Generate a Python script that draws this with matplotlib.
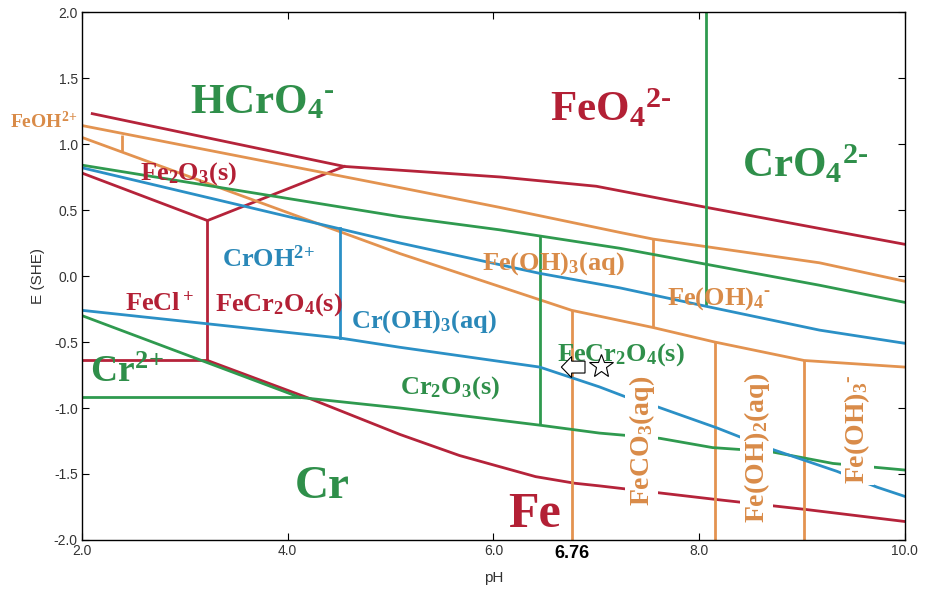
#Pourbaix diagram Fe-Cr (E vs pH), redrawn
import numpy as np
import matplotlib
matplotlib.use("Agg")
import matplotlib.pyplot as plt

plt.rcParams['mathtext.fontset'] = 'custom'
plt.rcParams['mathtext.default'] = 'regular'
plt.rcParams['axes.unicode_minus'] = False

#colours
red = '#b5233a'
orange = '#e39350'
green = '#2f9a4f'
blue = '#2b90c6'
red_txt = '#b32035'
orange_txt = '#d98b48'
green_txt = '#2f8f4a'
blue_txt = '#2a88b8'

#Fe boundaries (red)
red_top_ph = [2.1, 4.55, 6.07, 7.0, 8.07, 9.17, 10.0]
red_top_e = [1.23, 0.83, 0.75, 0.68, 0.52, 0.36, 0.24]
red_v_ph = [2.0, 3.22, 4.55]
red_v_e = [0.78, 0.42, 0.83]
red_mid_ph = [3.22, 3.22]
red_mid_e = [0.42, -0.64]
red_hor_ph = [2.0, 3.22]
red_hor_e = [-0.64, -0.64]
red_bot_ph = [3.22, 4.22, 5.09, 5.67, 6.41, 6.79, 7.03, 8.13, 9.05, 10.0]
red_bot_e = [-0.64, -0.93, -1.2, -1.36, -1.52, -1.57, -1.59, -1.69, -1.77, -1.86]

#Fe boundaries (orange)
orange_up_ph = [2.0, 5.09, 6.06, 7.23, 7.55, 9.17, 10.0]
orange_up_e = [1.14, 0.67, 0.52, 0.33, 0.28, 0.10, -0.04]
orange_lo_ph = [2.0, 5.09, 6.45, 6.76, 7.55, 8.15, 9.02, 10.0]
orange_lo_e = [1.05, 0.17, -0.18, -0.26, -0.39, -0.50, -0.64, -0.69]
orange_vx = [2.39, 7.55, 6.76, 8.15, 9.02]
orange_vtop = [1.07, 0.28, -0.26, -0.50, -0.64]
orange_vbot = [0.95, -0.39, -2.0, -2.0, -2.0]

#Cr boundaries (green)
green_up_ph = [2.0, 5.09, 6.06, 7.23, 9.17, 10.0]
green_up_e = [0.84, 0.45, 0.35, 0.21, -0.07, -0.20]
green_vx = [6.45, 8.07]
green_vtop = [0.30, 2.0]
green_vbot = [-1.13, -0.23]
green_cr2_ph = [2.0, 4.12]
green_cr2_e = [-0.30, -0.92]
green_hor_ph = [2.0, 4.12]
green_hor_e = [-0.92, -0.92]
green_lo_ph = [4.12, 5.09, 6.45, 7.03, 7.62, 8.13, 8.69, 9.30, 10.0]
green_lo_e = [-0.92, -1.0, -1.13, -1.19, -1.23, -1.30, -1.33, -1.42, -1.47]

#Cr boundaries (blue)
blue_up_ph = [2.0, 5.09, 6.45, 7.23, 8.07, 9.17, 10.0]
blue_up_e = [0.82, 0.25, 0.02, -0.09, -0.23, -0.41, -0.51]
blue_v_ph = [4.51, 4.51]
blue_v_e = [0.36, -0.47]
blue_lo_ph = [2.0, 4.51, 5.09, 6.45, 7.03, 7.30, 7.59, 8.17, 8.66, 9.34, 9.73, 10.0]
blue_lo_e = [-0.26, -0.47, -0.54, -0.69, -0.84, -0.92, -0.99, -1.15, -1.30, -1.48, -1.60, -1.67]

#marked point
star_ph = 7.05
star_e = -0.68

xticks = [2.0, 4.0, 6.0, 8.0, 10.0]
yticks = [-2.0, -1.5, -1.0, -0.5, 0.0, 0.5, 1.0, 1.5, 2.0]

fig = plt.figure(figsize=(9.25, 5.89), dpi=100)
ax = fig.add_axes([0.0886, 0.0832, 0.8897, 0.8964])
lw = 2.0

ax.plot(red_top_ph, red_top_e, color=red, lw=lw)
ax.plot(red_v_ph, red_v_e, color=red, lw=lw)
ax.plot(red_mid_ph, red_mid_e, color=red, lw=lw)
ax.plot(red_hor_ph, red_hor_e, color=red, lw=lw)
ax.plot(red_bot_ph, red_bot_e, color=red, lw=lw)

ax.plot(orange_up_ph, orange_up_e, color=orange, lw=lw)
ax.plot(orange_lo_ph, orange_lo_e, color=orange, lw=lw)
ax.vlines(orange_vx, orange_vbot, orange_vtop, color=orange, lw=lw)

ax.plot(green_up_ph, green_up_e, color=green, lw=lw)
ax.vlines(green_vx, green_vbot, green_vtop, color=green, lw=lw)
ax.plot(green_cr2_ph, green_cr2_e, color=green, lw=lw)
ax.plot(green_hor_ph, green_hor_e, color=green, lw=lw)
ax.plot(green_lo_ph, green_lo_e, color=green, lw=lw)

ax.plot(blue_up_ph, blue_up_e, color=blue, lw=lw)
ax.plot(blue_v_ph, blue_v_e, color=blue, lw=lw)
ax.plot(blue_lo_ph, blue_lo_e, color=blue, lw=lw)

#star + hollow arrow
ax.plot(star_ph, star_e, marker='*', ms=18, mfc='white', mec='black', mew=0.8, zorder=5)
ax.arrow(6.89, -0.69, -0.13, 0, width=0.09, head_width=0.16, head_length=0.1,
         fc='white', ec='black', lw=0.8, length_includes_head=False, zorder=5)

#labels (hyphen U+2010 for the charge sign)
serif = dict(family='Liberation Serif', weight='bold', ha='left', va='baseline')
ax.text(3.05, 1.23, 'HCrO$_4$$^{\u2010}$', color=green_txt, fontsize=31, **serif)
ax.text(6.55, 1.17, 'FeO$_4$$^{2\u2010}$', color=red_txt, fontsize=31, **serif)
ax.text(8.42, 0.75, 'CrO$_4$$^{2\u2010}$', color=green_txt, fontsize=31, **serif)
ax.text(1.30, 1.12, r'FeOH$^{2\!+}$', color=orange_txt, fontsize=14, **serif)
ax.text(2.56, 0.73, r'Fe$_2$O$_3$(s)', color=red_txt, fontsize=19, **serif)
ax.text(3.36, 0.07, r'CrOH$^{2\!+}$', color=blue_txt, fontsize=19, **serif)
ax.text(2.42, -0.26, r'FeCl$^+$', color=red_txt, fontsize=19, **serif)
ax.text(3.29, -0.26, r'FeCr$_2$O$_4$(s)', color=red_txt, fontsize=19, **serif)
ax.text(4.62, -0.39, r'Cr(OH)$_3$(aq)', color=blue_txt, fontsize=19, **serif)
ax.text(5.89, 0.05, r'Fe(OH)$_3$(aq)', color=orange_txt, fontsize=19, **serif)
ax.text(7.69, -0.22, 'Fe(OH)$_4$$^{\u2010}$', color=orange_txt, fontsize=19, **serif)
ax.text(6.62, -0.64, r'FeCr$_2$O$_4$(s)', color=green_txt, fontsize=19, **serif)
ax.text(5.09, -0.89, r'Cr$_2$O$_3$(s)', color=green_txt, fontsize=19, **serif)
ax.text(2.08, -0.80, r'Cr$^{2\!+}$', color=green_txt, fontsize=27, **serif)
ax.text(4.07, -1.68, 'Cr', color=green_txt, fontsize=34, **serif)
ax.text(6.14, -1.90, 'Fe', color=red_txt, fontsize=36, **serif)

rot = dict(family='Liberation Serif', weight='bold', ha='center', va='center', rotation=90,
           color=orange_txt, fontsize=20, bbox=dict(fc='white', ec='none', pad=1))
ax.text(7.44, -1.25, r'FeCO$_3$(aq)', **rot)
ax.text(8.56, -1.30, r'Fe(OH)$_2$(aq)', **rot)
ax.text(9.54, -1.16, 'Fe(OH)$_3$$^{\u2010}$', **rot)

ax.text(6.76, -2.10, '6.76', family='Liberation Sans', weight='bold', fontsize=13,
        ha='center', va='center', color='black')

#axes
ax.set_xlim(2.0, 10.0)
ax.set_ylim(-2.0, 2.0)
ax.set_xticks(xticks)
ax.set_yticks(yticks)
ax.set_xticklabels(['%.1f' % t for t in xticks])
ax.set_yticklabels(['%.1f' % t for t in yticks])
ax.tick_params(direction='in', top=True, right=True, length=5, width=0.8,
               labelsize=10, labelcolor='#333333', pad=3)
for lab in ax.get_xticklabels() + ax.get_yticklabels():
    lab.set_family('Liberation Sans')
ax.set_xlabel('pH', fontsize=11, family='Liberation Sans', color='#333333', labelpad=9)
ax.set_ylabel('E (SHE)', fontsize=11, family='Liberation Sans', color='#333333', labelpad=6)
for s in ax.spines.values():
    s.set_linewidth(1.0)

fig.savefig('out.png', dpi=100)
